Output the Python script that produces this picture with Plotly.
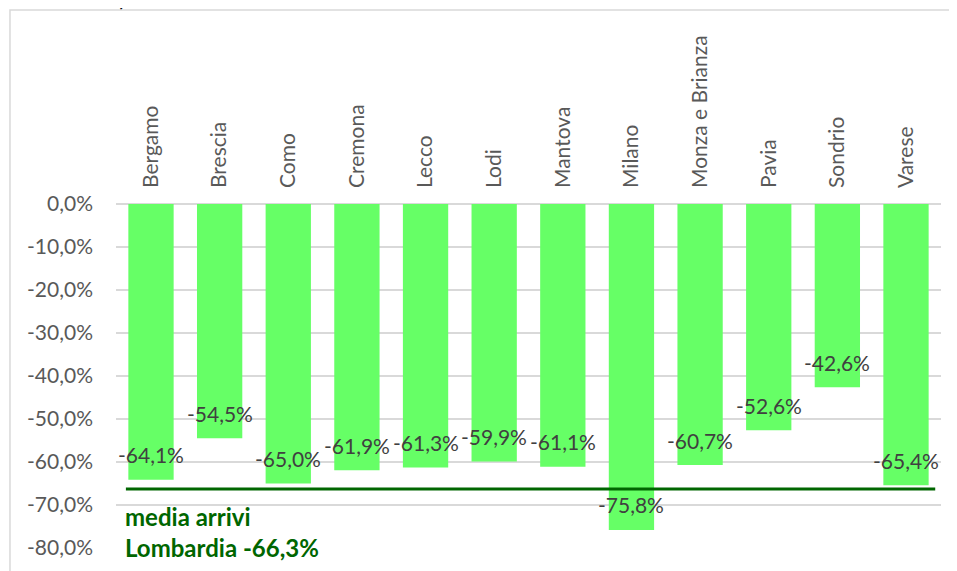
import plotly.graph_objects as go

# ---------------------------------------------------------------------------
# Dati
# ---------------------------------------------------------------------------

province = [
    "Bergamo", "Brescia", "Como", "Cremona", "Lecco", "Lodi",
    "Mantova", "Milano", "Monza e Brianza", "Pavia", "Sondrio", "Varese",
]
variazione = [-64.1, -54.5, -65.0, -61.9, -61.3, -59.9, -61.1, -75.8, -60.7, -52.6, -42.6, -65.4]
etichette = ["-64,1%", "-54,5%", "-65,0%", "-61,9%", "-61,3%", "-59,9%",
             "-61,1%", "-75,8%", "-60,7%", "-52,6%", "-42,6%", "-65,4%"]

media_lombardia = -66.3
testo_media = "media arrivi<br>Lombardia -66,3%"

y_tickvals = [0, -10, -20, -30, -40, -50, -60, -70, -80]
y_ticktext = ["0,0%", "-10,0%", "-20,0%", "-30,0%", "-40,0%",
              "-50,0%", "-60,0%", "-70,0%", "-80,0%"]

titolo = "Lombardia, anno 2020."

# ---------------------------------------------------------------------------
# Stile
# ---------------------------------------------------------------------------

FONT = "Lato"
VERDE_BARRE = "#66FF66"
VERDE_SCURO = "#006600"
GRIGIO_TESTO = "#595959"
GRIGIO_ETICH = "#404040"

fig = go.Figure(go.Bar(
    x=province,
    y=variazione,
    marker=dict(color=VERDE_BARRE, line=dict(width=0)),
    width=0.66,
    hoverinfo="x+y",
))

# etichette dati sopra la fine di ogni barra
for prov, val, txt in zip(province, variazione, etichette):
    fig.add_annotation(
        x=prov, y=val, text=txt, showarrow=False,
        yanchor="middle", yshift=25,
        font=dict(family=FONT, size=21, color=GRIGIO_ETICH),
    )

# linea media regionale
fig.add_shape(
    type="line", xref="paper", yref="y",
    x0=0.012, x1=0.993, y0=media_lombardia, y1=media_lombardia,
    line=dict(color=VERDE_SCURO, width=3),
)
fig.add_annotation(
    xref="paper", yref="y", x=0.009, y=media_lombardia,
    xanchor="left", yanchor="top", yshift=-11, align="left",
    text=f"<b>{testo_media}</b>", showarrow=False,
    font=dict(family=FONT, size=24, color=VERDE_SCURO),
)

# cornice del grafico
fig.add_shape(
    type="rect", xref="paper", yref="paper",
    x0=-0.1285, x1=1.1, y0=-0.2, y1=1.564,
    line=dict(color="#D9D9D9", width=1.5),
    layer="below",
)

# titolo (tagliato in alto come nell'originale)
fig.add_annotation(
    xref="paper", yref="paper", x=-0.135, y=1.556,
    xanchor="left", yanchor="bottom",
    text=f"<b>{titolo}</b>", showarrow=False,
    font=dict(family=FONT, size=24, color="#000000"),
)

fig.update_layout(
    width=957,
    height=571,
    margin=dict(l=108, r=24, t=196, b=31),
    paper_bgcolor="white",
    plot_bgcolor="white",
    showlegend=False,
    bargap=0.34,
    font=dict(family=FONT, color=GRIGIO_TESTO),
    xaxis=dict(
        side="top",
        tickangle=-90,
        tickfont=dict(family=FONT, size=21, color=GRIGIO_TESTO),
        showline=False,
        ticks="",
        ticklabelstandoff=15,
    ),
    yaxis=dict(
        range=[-80, 0],
        tickvals=y_tickvals,
        ticktext=y_ticktext,
        tickfont=dict(family=FONT, size=21, color=GRIGIO_TESTO),
        showgrid=True,
        gridcolor="#D9D9D9",
        gridwidth=1.5,
        zeroline=True,
        zerolinecolor="#D9D9D9",
        zerolinewidth=1.5,
        showline=False,
        ticks="",
        ticklabelstandoff=22,
    ),
)

fig.write_html("out.html")
